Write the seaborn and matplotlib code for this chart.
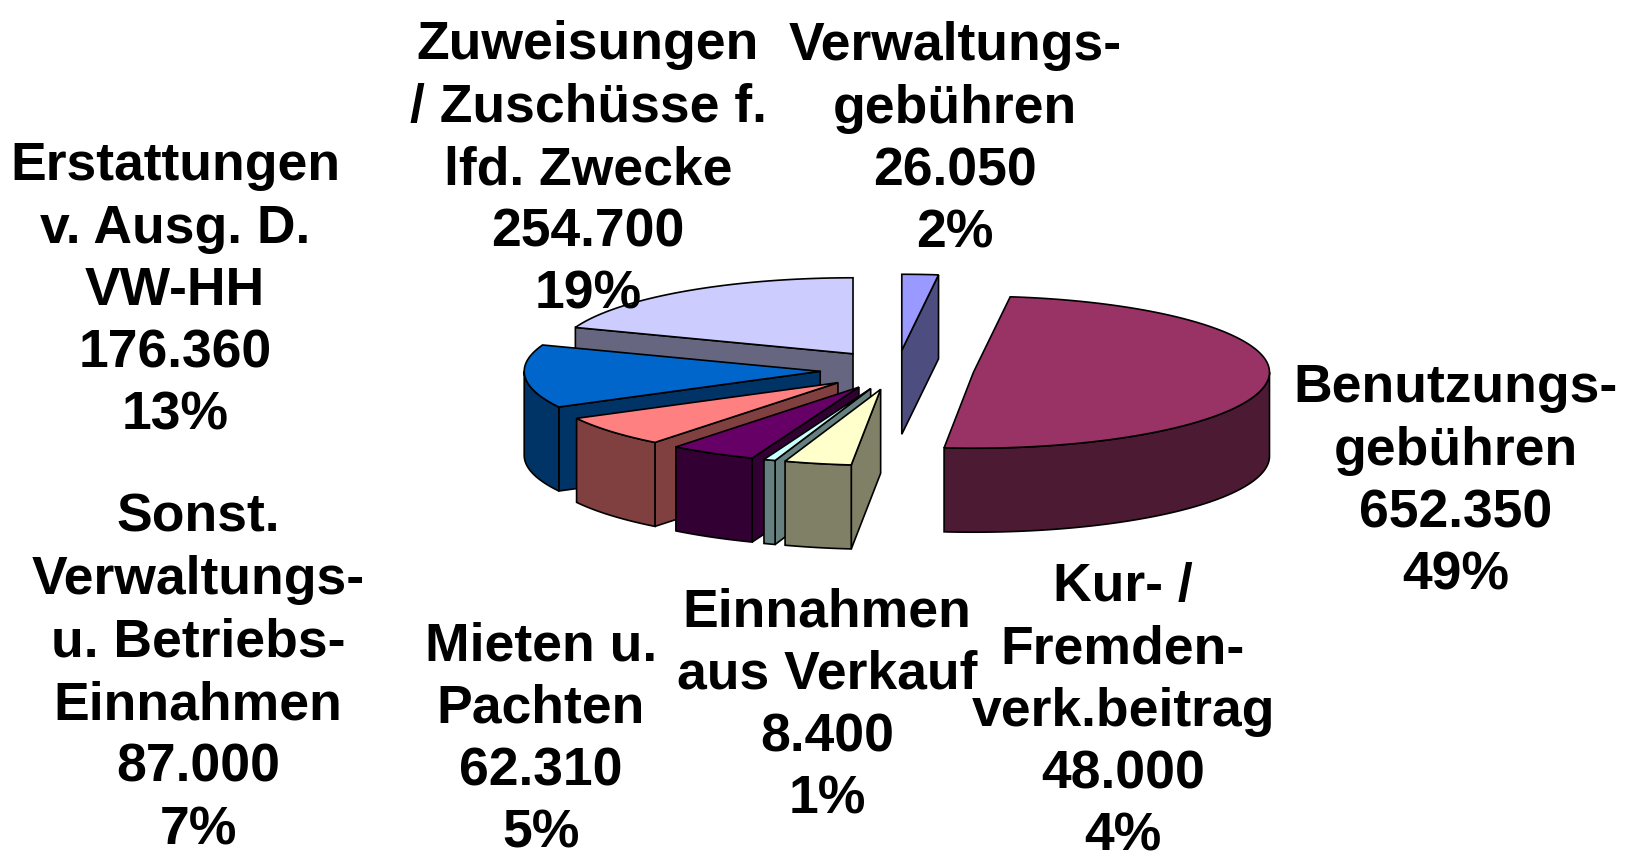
import numpy as np
import matplotlib
matplotlib.use("Agg")
import matplotlib.pyplot as plt
from matplotlib.patches import Polygon
from matplotlib.colors import to_rgb
import seaborn as sns

# ─────────────────────────────────────
# DATA  (slices clockwise from 12 o'clock)
# ─────────────────────────────────────
names = ["Verwaltungs-\ngebühren",
         "Benutzungs-\ngebühren",
         "Kur- /\nFremden-\nverk.beitrag",
         "Einnahmen\naus Verkauf",
         "Mieten u.\nPachten",
         "Sonst.\nVerwaltungs-\nu. Betriebs-\nEinnahmen",
         "Erstattungen\nv. Ausg. D.\nVW-HH",
         "Zuweisungen\n/ Zuschüsse f.\nlfd. Zwecke"]
values = [26050, 652350, 48000, 8400, 62310, 87000, 176360, 254700]
percents = [2, 49, 4, 1, 5, 7, 13, 19]
colors = ["#9999FF", "#993366", "#FFFFCC", "#CCFFFF",
          "#660066", "#FF8080", "#0066CC", "#CCCCFF"]

# ─────────────────────────────────────
# LAYOUT (pixels)
# ─────────────────────────────────────
W, H = 1631, 856
cx, cy = 897, 370          # pie centre (top face)
rx, ry = 296, 76           # ellipse radii of top face
depth = 84                 # thickness
explode = 0.26             # radial offset of every slice
label_pos = [(955, 140), (1456, 482), (1123, 712), (827, 706),
             (541, 740), (198, 674), (175, 291), (588, 170)]

sns.set_theme(style="white")
plt.rcParams['font.family'] = ['Liberation Sans', 'DejaVu Sans']

fig = plt.figure(figsize=(W / 100, H / 100), dpi=100)
ax = fig.add_axes([0, 0, 1, 1])
ax.set_xlim(0, W)
ax.set_ylim(H, 0)
ax.axis('off')


def rim(theta, ox, oy):
    t = np.radians(theta)
    return ox + rx * np.sin(t), oy - ry * np.cos(t)


fracs = np.array(values) / np.sum(values)
edges = np.concatenate([[0], np.cumsum(fracs) * 360])

slices = []
for i in range(len(values)):
    a, b = edges[i], edges[i + 1]
    mid = np.radians((a + b) / 2)
    ox = cx + explode * rx * np.sin(mid)
    oy = cy - explode * ry * np.cos(mid)
    slices.append((oy, i, a, b, ox))

lw = 1.2
for k, (oy, i, a, b, ox) in enumerate(sorted(slices)):
    top = colors[i]
    side = tuple(np.array(to_rgb(top)) * 0.5)
    z = 10 + k * 3

    # radial cut faces facing the viewer
    for phi, psi in ((a, a - 90), (b, b + 90)):
        if np.cos(np.radians(psi)) < -1e-6:
            px, py = rim(phi, ox, oy)
            face = [(ox, oy), (px, py), (px, py + depth), (ox, oy + depth)]
            ax.add_patch(Polygon(face, closed=True, fc=side, ec='black',
                                 lw=lw, zorder=z))

    # outer curved wall (front half only)
    lo, hi = max(a, 90), min(b, 270)
    if hi > lo:
        th = np.linspace(lo, hi, 120)
        xs, ys = rim(th, ox, oy)
        wall = np.column_stack([np.concatenate([xs, xs[::-1]]),
                                np.concatenate([ys, ys[::-1] + depth])])
        ax.add_patch(Polygon(wall, closed=True, fc=side, ec='black',
                             lw=lw, zorder=z + 1))

    # top face
    th = np.linspace(a, b, 200)
    xs, ys = rim(th, ox, oy)
    pts = np.column_stack([np.concatenate([[ox], xs]),
                           np.concatenate([[oy], ys])])
    ax.add_patch(Polygon(pts, closed=True, fc=top, ec='black',
                         lw=lw, zorder=z + 2))

# ─────────────────────────────────────
# LABELS
# ─────────────────────────────────────
for name, val, pct, (lx, ly) in zip(names, values, percents, label_pos):
    txt = f"{name}\n{val:,}".replace(",", ".") + f"\n{pct}%"
    ax.text(lx, ly, txt, ha='center', va='center', multialignment='center',
            fontsize=38.5, fontweight='bold', color='black',
            linespacing=1.32, zorder=100)

plt.savefig('out.png', dpi=100)
plt.close()
